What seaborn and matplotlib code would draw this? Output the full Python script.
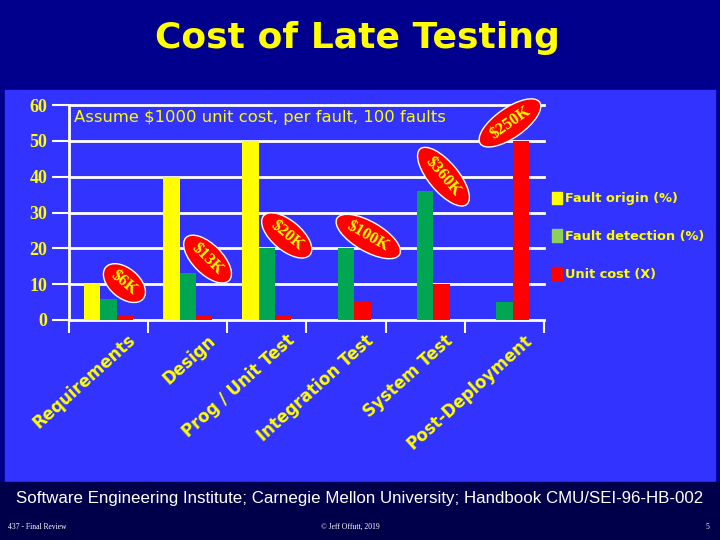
import matplotlib
matplotlib.use("Agg")
import matplotlib.pyplot as plt
import matplotlib.transforms as mtransforms
from matplotlib.patches import Rectangle, Patch
import seaborn as sns
import pandas as pd

# ---- data ----
stages = ["Requirements", "Design", "Prog / Unit Test", "Integration Test",
          "System Test", "Post-Deployment"]
fault_origin = [10, 40, 50, 0, 0, 0]
fault_detection = [6, 13, 20, 20, 36, 5]
unit_cost = [1, 1, 1, 5, 10, 50]
series_names = ["Fault origin (%)", "Fault detection (%)", "Unit cost (X)"]
cost_labels = ["$6K", "$13K", "$20K", "$100K", "$360K", "$250K"]
yticks = [0, 10, 20, 30, 40, 50, 60]

# ---- styling / layout ----
YELLOW = "#ffff00"
BAR_GREEN = "#00a651"
LEG_GREEN = "#8fce5a"
RED = "#ff0000"
PANEL = "#3333ff"
TOP = "#00008c"
BOTTOM = "#00004a"
# annotation centres (data coords) and rotations
ann_pos = [(0.2, 10.3), (1.25, 17.0), (2.25, 23.6), (3.28, 23.3), (4.23, 40.0), (5.07, 55.0)]
ann_rot = [-40, -45, -40, -30, -50, 35]

df = pd.DataFrame({
    "stage": stages * 3,
    "series": sum([[s] * len(stages) for s in series_names], []),
    "value": fault_origin + fault_detection + unit_cost,
})

fig = plt.figure(figsize=(7.2, 5.4), dpi=100)
fig.patch.set_facecolor(TOP)
W, H = 720, 540
def fr(x0, y0, x1, y1):
    return (x0 / W, 1 - y1 / H, (x1 - x0) / W, (y1 - y0) / H)
l, b, w, h = fr(5, 90, 715, 482)
fig.patches.append(Rectangle((l, b), w, h, transform=fig.transFigure, color=PANEL, zorder=-2))
l, b, w, h = fr(0, 482, 720, 540)
fig.patches.append(Rectangle((l, b), w, h, transform=fig.transFigure, color=BOTTOM, zorder=-2))

ax = fig.add_axes(fr(69, 105, 544, 320))
ax.set_facecolor("none")
sns.barplot(data=df, x="stage", y="value", hue="series", order=stages,
            hue_order=series_names, palette=[YELLOW, BAR_GREEN, RED],
            width=0.62, saturation=1, linewidth=0, legend=False, ax=ax, zorder=3)

ax.set_ylim(0, 60)
ax.set_xlim(-0.5, len(stages) - 0.5)
ax.set_yticks(yticks)
ax.set_yticklabels([str(v) for v in yticks], color=YELLOW, fontsize=13,
                   fontweight="bold", family="Liberation Serif")
ax.yaxis.grid(True, color="white", linewidth=2)
for gl in ax.get_ygridlines():
    gl.set_clip_on(False)
ax.set_axisbelow(True)
ax.tick_params(axis="y", direction="out", length=12.5, width=1.5, color="white", pad=3)
for s in ["top", "right", "bottom"]:
    ax.spines[s].set_visible(False)
ax.spines["left"].set_color("white")
ax.spines["left"].set_linewidth(2)
ax.set_xlabel("")
ax.set_ylabel("")

ax.set_xticks([i for i in range(len(stages))])
ax.set_xticks([i - 0.5 for i in range(len(stages) + 1)], minor=True)
ax.tick_params(axis="x", which="major", length=0)
ax.tick_params(axis="x", which="minor", direction="out", length=9.5, width=1.5, color="white")
ax.set_xticklabels(stages, rotation=42, ha="right", va="center", rotation_mode="anchor",
                   color=YELLOW, fontsize=12, fontweight="bold", family="DejaVu Sans")
off = mtransforms.ScaledTranslation(25 / 100, -13 / 100, fig.dpi_scale_trans)
for lab in ax.get_xticklabels():
    lab.set_transform(lab.get_transform() + off)

for txt, (x, y), r in zip(cost_labels, ann_pos, ann_rot):
    ax.text(x, y, txt, rotation=r, rotation_mode="anchor", ha="center", va="center",
            color=YELLOW, fontsize=12, fontweight="bold", family="Liberation Serif",
            zorder=6,
            bbox=dict(boxstyle="ellipse,pad=0.15", fc=RED, ec="white", lw=1))

ax.text(0.01, 0.94, "Assume $1000 unit cost, per fault, 100 faults", transform=ax.transAxes,
        color=YELLOW, fontsize=11.8, ha="left", va="center", family="DejaVu Sans", zorder=6)

handles = [Patch(color=YELLOW), Patch(color=LEG_GREEN), Patch(color=RED)]
leg = fig.legend(handles, series_names, loc="upper left", bbox_to_anchor=(540 / W, 1 - 180 / H),
                 frameon=False, handlelength=0.8, handleheight=1.15, handletextpad=0.25,
                 labelspacing=1.85, prop=dict(family="DejaVu Sans", weight="bold", size=9.3))
for t in leg.get_texts():
    t.set_color(YELLOW)

fig.text(0.496, 1 - 38 / H, "Cost of Late Testing", color=YELLOW, fontsize=26,
         fontweight="bold", ha="center", va="center", family="DejaVu Sans")
fig.text(0.5, 1 - 498 / H,
         "Software Engineering Institute; Carnegie Mellon University; Handbook CMU/SEI-96-HB-002",
         color="white", fontsize=12.2, ha="center", va="center", family="Liberation Sans")
fig.text(8 / W, 1 - 527 / H, "437 - Final Review", color="white", fontsize=5.5,
         ha="left", va="center", family="Liberation Serif")
fig.text(350 / W, 1 - 527 / H, "\u00a9 Jeff Offutt, 2019", color="white", fontsize=5.5,
         ha="center", va="center", family="Liberation Serif")
fig.text(707 / W, 1 - 527 / H, "5", color="white", fontsize=5.5,
         ha="center", va="center", family="Liberation Serif")

fig.savefig("out.png", dpi=100, facecolor=fig.get_facecolor())
